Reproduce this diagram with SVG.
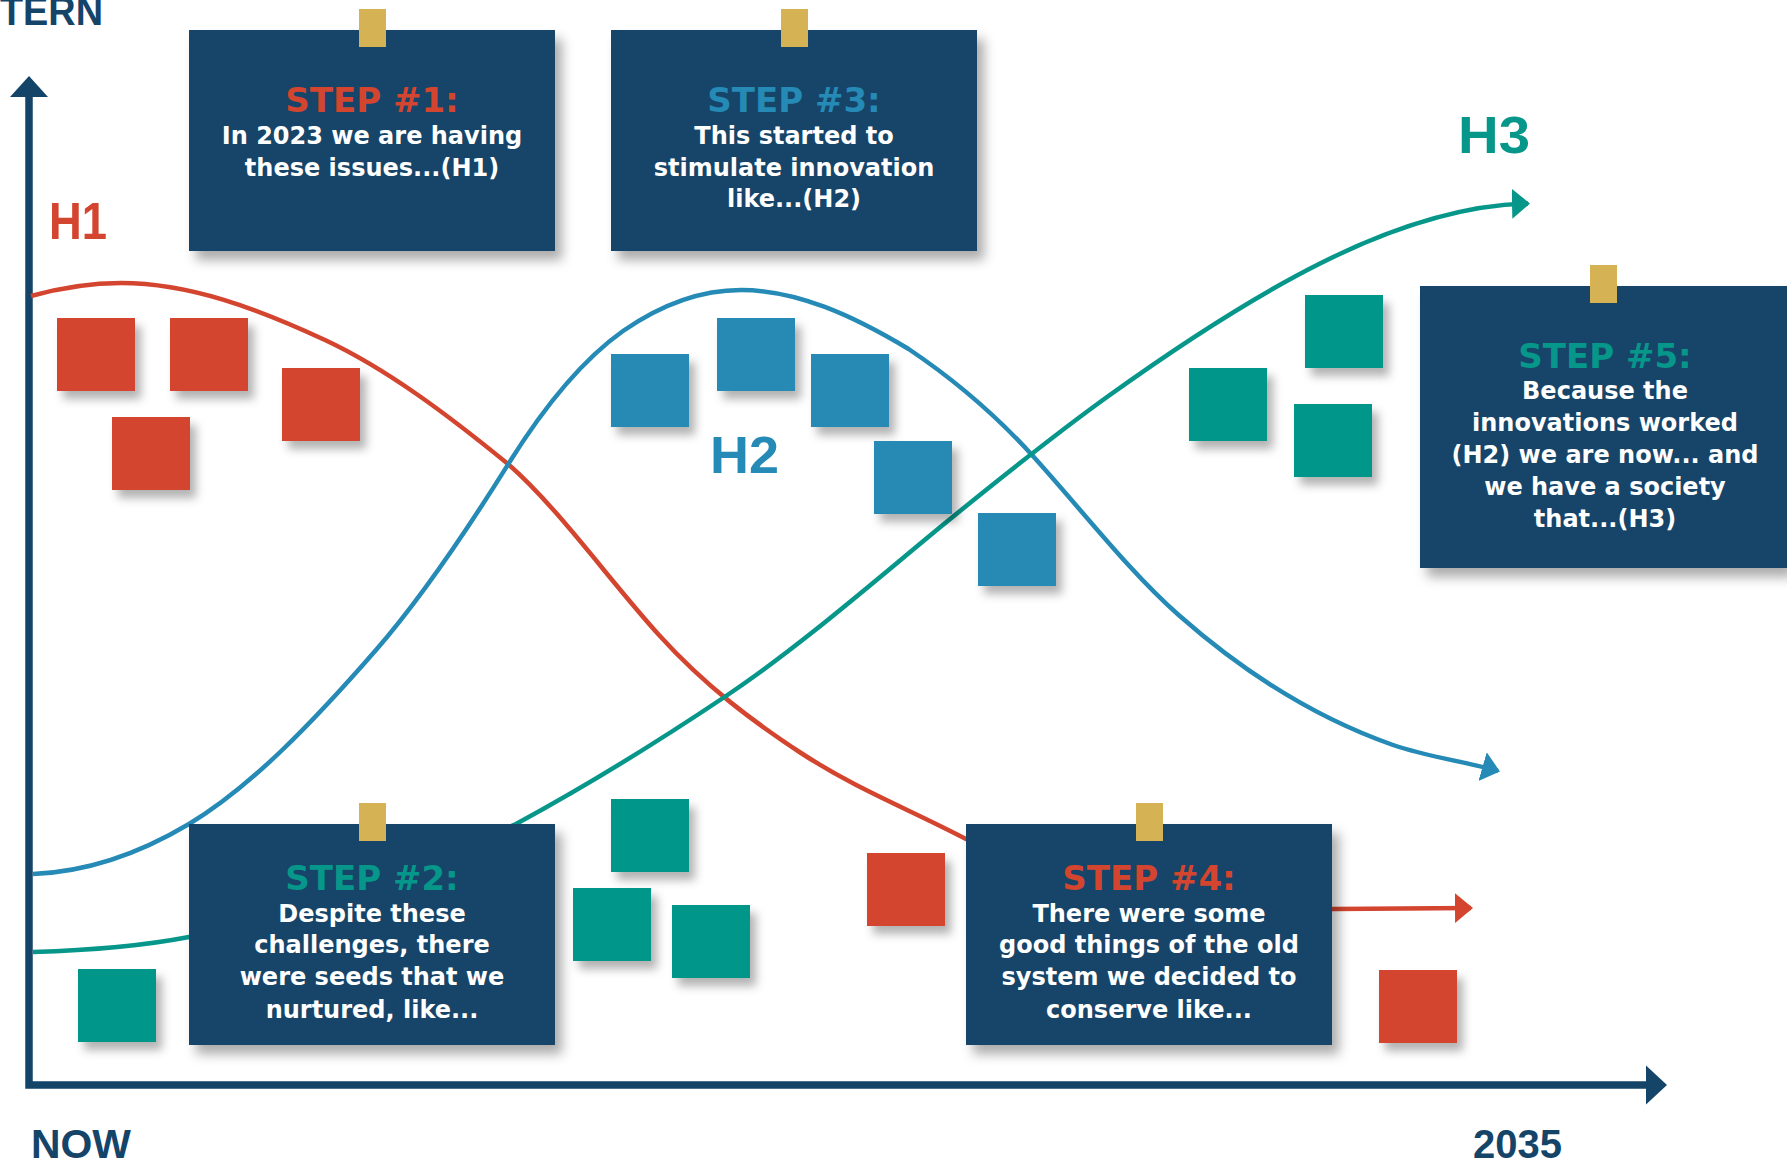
<svg xmlns="http://www.w3.org/2000/svg" width="1787" height="1162" viewBox="0 0 1787 1162">
<style>
.box{fill:#154469;filter:url(#shBox)}
.tab{fill:#D5B254}
.note{filter:url(#shNote)}
.red{fill:#D3452F}
.blue{fill:#258AB5}
.teal{fill:#06978A}
.body{font-family:"DejaVu Sans",Verdana,sans-serif;font-weight:bold;font-size:24px;fill:#ffffff;text-anchor:middle}
.head{font-family:"DejaVu Sans",Verdana,sans-serif;font-weight:bold;font-size:34px;text-anchor:middle}
.lbl{font-family:"Liberation Sans",Arial,sans-serif;font-weight:bold}
.hl{font-size:51px}
.ax{font-size:40px;fill:#154469}
.curve{fill:none;stroke-width:4.5;stroke-linecap:butt}
</style>
<defs>
<filter id="shBox" x="-10%" y="-10%" width="130%" height="135%">
<feDropShadow dx="7" dy="9" stdDeviation="6" flood-color="#000" flood-opacity="0.33"/>
</filter>
<filter id="shNote" x="-20%" y="-20%" width="160%" height="160%">
<feDropShadow dx="6" dy="8" stdDeviation="5" flood-color="#000" flood-opacity="0.3"/>
</filter>
<marker id="arrRed" viewBox="0 0 18 32" refX="16" refY="16" markerWidth="18" markerHeight="32" markerUnits="userSpaceOnUse" orient="auto"><path d="M0,1 L18,16 L0,31 Z" fill="#D3452F"/></marker>
<marker id="arrBlue" viewBox="0 0 18 32" refX="16" refY="16" markerWidth="18" markerHeight="32" markerUnits="userSpaceOnUse" orient="auto"><path d="M0,1 L18,16 L0,31 Z" fill="#258AB5"/></marker>
<marker id="arrTeal" viewBox="0 0 18 32" refX="16" refY="16" markerWidth="18" markerHeight="32" markerUnits="userSpaceOnUse" orient="auto"><path d="M0,1 L18,16 L0,31 Z" fill="#06978A"/></marker>
</defs>
<rect x="0" y="0" width="1787" height="1162" fill="#ffffff"/>

<g id="axes">
<path d="M29,96 V1085 H1647" fill="none" stroke="#154469" stroke-width="7.5" stroke-linejoin="miter"/>
<polygon points="29,76 48,97 10,97" fill="#154469"/>
<polygon points="1667,1085 1646,1065.5 1646,1104.5" fill="#154469"/>
<text class="lbl ax" x="0" y="25" textLength="103" lengthAdjust="spacingAndGlyphs">TERN</text>
<text class="lbl ax" x="31" y="1158" textLength="100" lengthAdjust="spacingAndGlyphs">NOW</text>
<text class="lbl ax" x="1473" y="1158" textLength="89" lengthAdjust="spacingAndGlyphs">2035</text>
</g>

<g id="connectors">
<path id="curve-h1" class="curve" stroke="#D3452F" marker-end="url(#arrRed)" d="M31,296 C60,288 90,283 121,283 C190,283 258,309 325,340 C387,369 448,415 508,464 C558,507.5 609,580 659,635 C706,687 754,722 801,753 C856,789 911,810 966,839 C1090,900 1230,909 1333,909 L1471,908"/>
<path id="curve-h2" class="curve" stroke="#258AB5" marker-end="url(#arrBlue)" d="M33,874 C85,872 137,855 189,824 C251,787 314,721 376,650 C420,599.4 464.6,534 508.6,463.6 C546.6,402.6 585,358 623,331 C662,304 702,290 741,290 C797,290 852.6,315.4 908.6,349 C949.6,376.5 991,410 1032,455 C1081,509 1129.6,572 1178.6,615 C1250,678 1321.5,720 1393,745 C1428,757 1463,761 1498,771"/>
<path id="curve-h3" class="curve" stroke="#06978A" marker-end="url(#arrTeal)" d="M33,952 C85,950.5 137,947 189,937 C300,915 420,868 516,824 C586,786 656,743 726,696 C799,647 871,584 944,524 C998,480 1053,436 1107,397 C1178,346 1250,298.5 1321,263 C1390,228.5 1459,205 1528,203.5"/>
</g>

<g id="labels">
<text class="lbl hl" x="49" y="238.5" fill="#D3452F" textLength="58" lengthAdjust="spacingAndGlyphs">H1</text>
<text class="lbl hl" x="710" y="472.5" fill="#258AB5" textLength="69" lengthAdjust="spacingAndGlyphs">H2</text>
<text class="lbl hl" x="1458" y="152.5" fill="#06978A" textLength="72" lengthAdjust="spacingAndGlyphs">H3</text>
</g>

<g id="notes">
<g id="note-r1"><rect class="note red" x="57" y="318" width="78" height="73"/></g>
<g id="note-r2"><rect class="note red" x="170" y="318" width="78" height="73"/></g>
<g id="note-r3"><rect class="note red" x="282" y="368" width="78" height="73"/></g>
<g id="note-r4"><rect class="note red" x="112" y="417" width="78" height="73"/></g>
<g id="note-r5"><rect class="note red" x="867" y="853" width="78" height="73"/></g>
<g id="note-r6"><rect class="note red" x="1379" y="970" width="78" height="73"/></g>
<g id="note-b1"><rect class="note blue" x="611" y="354" width="78" height="73"/></g>
<g id="note-b2"><rect class="note blue" x="717" y="318" width="78" height="73"/></g>
<g id="note-b3"><rect class="note blue" x="811" y="354" width="78" height="73"/></g>
<g id="note-b4"><rect class="note blue" x="874" y="441" width="78" height="73"/></g>
<g id="note-b5"><rect class="note blue" x="978" y="513" width="78" height="73"/></g>
<g id="note-t1"><rect class="note teal" x="1305" y="295" width="78" height="73"/></g>
<g id="note-t2"><rect class="note teal" x="1189" y="368" width="78" height="73"/></g>
<g id="note-t3"><rect class="note teal" x="1294" y="404" width="78" height="73"/></g>
<g id="note-t4"><rect class="note teal" x="611" y="799" width="78" height="73"/></g>
<g id="note-t5"><rect class="note teal" x="573" y="888" width="78" height="73"/></g>
<g id="note-t6"><rect class="note teal" x="672" y="905" width="78" height="73"/></g>
<g id="note-t7"><rect class="note teal" x="78" y="969" width="78" height="73"/></g>
</g>

<g id="step1">
<rect class="box" x="189" y="30" width="366" height="221"/>
<rect class="tab" x="359" y="9" width="27" height="38"/>
<text class="head" x="372" y="112" fill="#D3452F">STEP #1:</text>
<text class="body" x="372" y="144">In 2023 we are having</text>
<text class="body" x="372" y="175.7">these issues...(H1)</text>
</g>

<g id="step3">
<rect class="box" x="611" y="30" width="366" height="221"/>
<rect class="tab" x="781" y="9" width="27" height="38"/>
<text class="head" x="794" y="112" fill="#258AB5">STEP #3:</text>
<text class="body" x="794" y="144">This started to</text>
<text class="body" x="794" y="175.7">stimulate innovation</text>
<text class="body" x="794" y="207.3">like...(H2)</text>
</g>

<g id="step5">
<rect class="box" x="1420" y="286" width="367" height="282"/>
<rect class="tab" x="1590" y="265" width="27" height="38"/>
<text class="head" x="1605" y="368.3" fill="#06978A">STEP #5:</text>
<text class="body" x="1605" y="399">Because the</text>
<text class="body" x="1605" y="431">innovations worked</text>
<text class="body" x="1605" y="463.3">(H2) we are now... and</text>
<text class="body" x="1605" y="495">we have a society</text>
<text class="body" x="1605" y="526.7">that...(H3)</text>
</g>

<g id="step2">
<rect class="box" x="189" y="824" width="366" height="221"/>
<rect class="tab" x="359" y="803" width="27" height="38"/>
<text class="head" x="372" y="890" fill="#06978A">STEP #2:</text>
<text class="body" x="372" y="921.7">Despite these</text>
<text class="body" x="372" y="953.3">challenges, there</text>
<text class="body" x="372" y="985">were seeds that we</text>
<text class="body" x="372" y="1017.7">nurtured, like...</text>
</g>

<g id="step4">
<rect class="box" x="966" y="824" width="366" height="221"/>
<rect class="tab" x="1136" y="803" width="27" height="38"/>
<text class="head" x="1149" y="890" fill="#D3452F">STEP #4:</text>
<text class="body" x="1149" y="921.7">There were some</text>
<text class="body" x="1149" y="953.3">good things of the old</text>
<text class="body" x="1149" y="985">system we decided to</text>
<text class="body" x="1149" y="1017.7">conserve like...</text>
</g>
</svg>
